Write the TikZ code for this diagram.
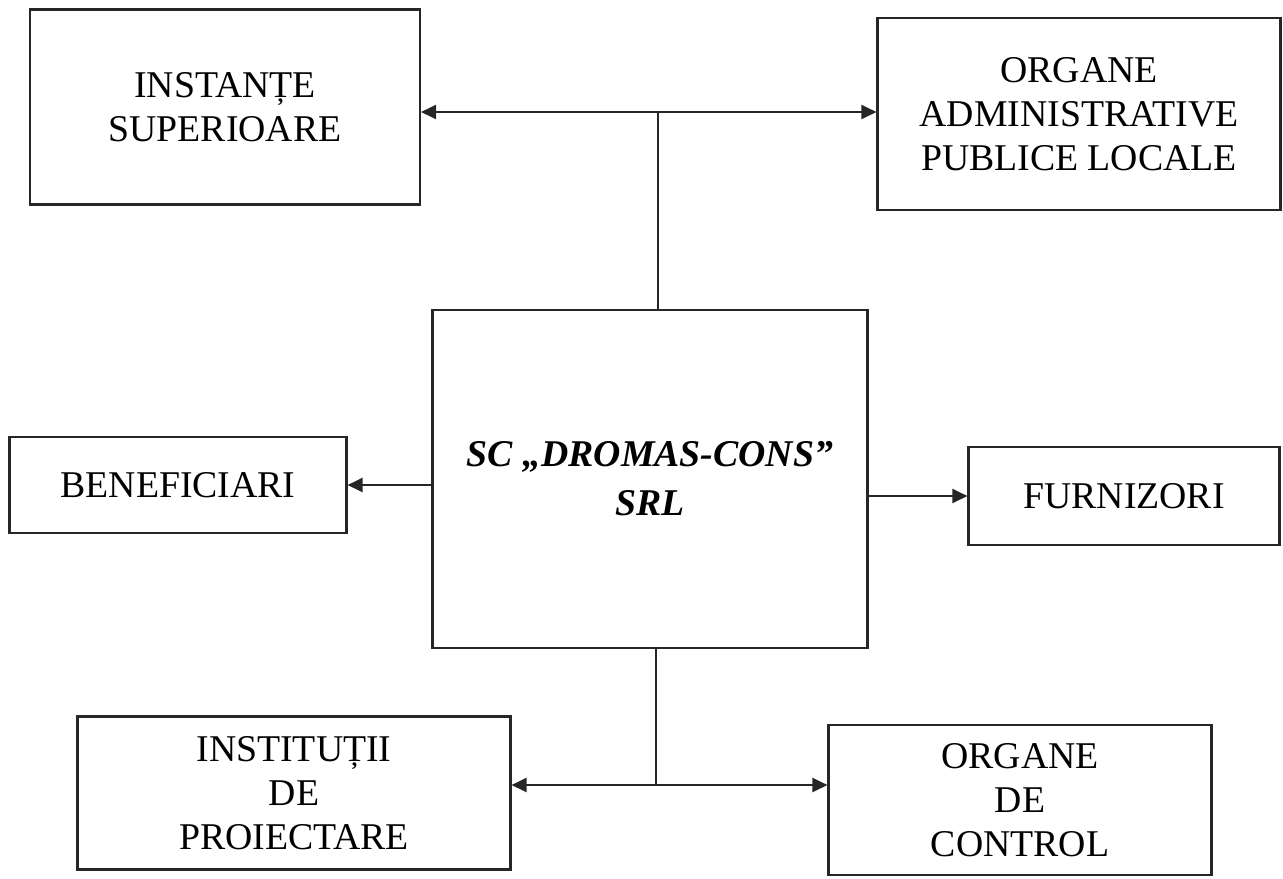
\documentclass[tikz,border=0pt]{standalone}
\usepackage{fontspec}
\setmainfont{Liberation Serif}
\usetikzlibrary{arrows.meta}

\begin{document}
\begin{tikzpicture}[x=0.2mm,y=-0.2mm,font=\fontsize{21.5}{25}\selectfont,
  >={Triangle[length=3mm,width=2.8mm]},
  line width=1.2pt,draw=black!85,
  box/.style={draw=black!85,align=center,inner sep=0pt}]
 \useasboundingbox (0,0) rectangle (1283,878);
 \node[box,minimum width=87mm,minimum height=67.6mm] (sc) at (650,479)
   {\bfseries\itshape SC „DROMAS-CONS”\\[1mm]\bfseries\itshape SRL};
 \node[box,minimum width=78mm,minimum height=39mm] (inst) at (225,107) {INSTANȚE\\SUPERIOARE};
 \node[box,minimum width=80.6mm,minimum height=38.4mm] (org) at (1079,114)
   {ORGANE\\ADMINISTRATIVE\\PUBLICE LOCALE};
 \node[box,minimum width=67.4mm,minimum height=19.2mm] (benef) at (178,485) {BENEFICIARI};
 \node[box,minimum width=62.2mm,minimum height=19.6mm] (furn) at (1124,496) {FURNIZORI};
 \node[box,minimum width=86.6mm,minimum height=30.6mm] (instit) at (294,793) {INSTITUȚII\\DE\\PROIECTARE};
 \node[box,minimum width=76.6mm,minimum height=30mm] (ctrl) at (1020,800) {ORGANE\\DE\\CONTROL};
 % branch points
 \coordinate (top) at (658,112);
 \coordinate (bot) at (656,785);
 \draw[<->] (inst.east |- top) -- (org.west |- top);
 \draw (top) -- (sc.north -| top);
 \draw[<->] (instit.east |- bot) -- (ctrl.west |- bot);
 \draw (sc.south -| bot) -- (bot);
 \draw[->] (sc.west |- benef.east) -- (benef.east);
 \draw[->] (sc.east |- furn.west) -- (furn.west);
\end{tikzpicture}
\end{document}
